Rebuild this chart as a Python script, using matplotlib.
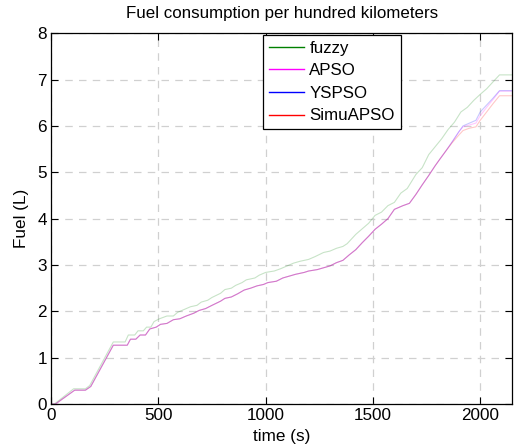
import numpy as np
import matplotlib
matplotlib.use('Agg')
import matplotlib.pyplot as plt
from matplotlib.lines import Line2D

plt.rcParams['font.family'] = ['Liberation Sans', 'DejaVu Sans']

# Fuel curves (time in s, fuel in L)
t_fuzzy = [0, 15, 105, 160, 180, 290, 345, 360, 390, 405, 430, 445, 465, 480, 505, 540, 570, 590, 620,
           650, 680, 700, 730, 750, 790, 810, 840, 860, 890, 910, 950, 970, 1000, 1040, 1070, 1100, 1130,
           1160, 1200, 1230, 1270, 1300, 1330, 1360, 1380, 1420, 1450, 1480, 1510, 1540, 1570, 1600, 1630,
           1660, 1700, 1730, 1760, 1790, 1820, 1850, 1880, 1910, 1940, 1970, 2000, 2030, 2060, 2090, 2150]
f_fuzzy = [0, 0, 0.33, 0.33, 0.40, 1.34, 1.34, 1.49, 1.49, 1.58, 1.58, 1.66, 1.66, 1.78, 1.84, 1.90, 1.90,
           1.98, 2.04, 2.10, 2.13, 2.20, 2.24, 2.30, 2.39, 2.47, 2.50, 2.56, 2.62, 2.68, 2.72, 2.78, 2.84,
           2.87, 2.92, 2.98, 3.04, 3.08, 3.12, 3.18, 3.27, 3.30, 3.36, 3.40, 3.46, 3.66, 3.78, 3.90, 4.07,
           4.14, 4.28, 4.35, 4.55, 4.65, 4.95, 5.10, 5.38, 5.55, 5.72, 5.92, 6.08, 6.30, 6.40, 6.55, 6.68,
           6.80, 6.95, 7.10, 7.10]

t_apso = [0, 20, 110, 160, 185, 290, 355, 370, 395, 415, 440, 460, 490, 510, 540, 570, 600, 630, 665,
          690, 720, 750, 790, 810, 840, 870, 900, 930, 960, 990, 1010, 1050, 1080, 1110, 1140, 1180, 1200,
          1240, 1270, 1300, 1330, 1360, 1390, 1420, 1450, 1480, 1510, 1540, 1570, 1600, 1640, 1670, 1700,
          1730, 1760, 1790, 1810, 1840, 1870, 1900, 1920, 1950, 1980, 2000, 2030, 2060, 2090, 2150]
f_apso = [0, 0, 0.30, 0.30, 0.38, 1.27, 1.27, 1.40, 1.40, 1.49, 1.49, 1.62, 1.66, 1.72, 1.74, 1.82, 1.84,
          1.90, 1.96, 2.02, 2.06, 2.13, 2.22, 2.28, 2.31, 2.38, 2.46, 2.50, 2.55, 2.58, 2.62, 2.65, 2.72,
          2.76, 2.80, 2.84, 2.87, 2.90, 2.94, 2.98, 3.05, 3.10, 3.22, 3.33, 3.48, 3.62, 3.77, 3.88, 4.00,
          4.20, 4.28, 4.33, 4.52, 4.73, 4.93, 5.14, 5.27, 5.46, 5.66, 5.87, 5.98, 6.02, 6.06, 6.22, 6.40,
          6.57, 6.75, 6.75]

t_yspso = t_apso
f_yspso = [0, 0, 0.30, 0.30, 0.38, 1.27, 1.27, 1.40, 1.40, 1.49, 1.49, 1.62, 1.66, 1.72, 1.74, 1.82, 1.84,
           1.90, 1.96, 2.02, 2.06, 2.13, 2.22, 2.28, 2.31, 2.38, 2.46, 2.50, 2.55, 2.58, 2.62, 2.65, 2.72,
           2.76, 2.80, 2.84, 2.87, 2.90, 2.94, 2.98, 3.05, 3.10, 3.22, 3.33, 3.48, 3.62, 3.77, 3.88, 4.00,
           4.20, 4.28, 4.33, 4.52, 4.73, 4.93, 5.14, 5.27, 5.46, 5.66, 5.87, 6.00, 6.06, 6.12, 6.30, 6.45,
           6.60, 6.76, 6.76]

t_simu = t_apso
f_simu = [0, 0, 0.30, 0.30, 0.38, 1.27, 1.27, 1.40, 1.40, 1.49, 1.49, 1.62, 1.66, 1.72, 1.74, 1.82, 1.84,
          1.90, 1.96, 2.02, 2.06, 2.13, 2.22, 2.28, 2.31, 2.38, 2.46, 2.50, 2.55, 2.58, 2.62, 2.65, 2.72,
          2.76, 2.80, 2.84, 2.87, 2.90, 2.94, 2.98, 3.05, 3.10, 3.22, 3.33, 3.48, 3.62, 3.77, 3.88, 4.00,
          4.20, 4.28, 4.33, 4.52, 4.73, 4.93, 5.14, 5.27, 5.46, 5.64, 5.80, 5.90, 5.95, 5.98, 6.12, 6.30,
          6.48, 6.65, 6.65]

series = [('fuzzy', t_fuzzy, f_fuzzy, '#008000'),
          ('APSO', t_apso, f_apso, '#ff00ff'),
          ('YSPSO', t_yspso, f_yspso, '#0000ff'),
          ('SimuAPSO', t_simu, f_simu, '#ff0000')]

fig = plt.figure(figsize=(5.16, 4.48), dpi=100)
ax = fig.add_axes([0.099, 0.098, 0.894, 0.828])

handles = []
for name, t, f, c in series:
    ax.plot(t, f, color=c, lw=0.8, alpha=0.22)
    handles.append(Line2D([], [], color=c, lw=1.0, label=name))

ax.set_xlim(0, 2150)
ax.set_ylim(0, 8)
ax.set_xticks([0, 500, 1000, 1500, 2000])
ax.set_yticks(range(0, 9))
ax.grid(True, color='#d0d0d0', linestyle=(0, (6, 5)), lw=0.9)
ax.tick_params(direction='in', top=True, right=True, labelsize=12.3, length=5, pad=3)
for s in ax.spines.values():
    s.set_linewidth(0.9)

ax.set_xlabel('time (s)', fontsize=12.3, labelpad=4)
ax.set_ylabel('Fuel (L)', fontsize=12.3, labelpad=6)
ax.set_title('Fuel consumption per hundred kilometers', fontsize=12.2, pad=11)

leg = ax.legend(handles=handles, loc='upper left', bbox_to_anchor=(0.459, 0.996),
                fontsize=12.2, frameon=True, fancybox=False, framealpha=1,
                edgecolor='black', handlelength=2.1, handletextpad=0.3,
                borderpad=0.35, labelspacing=0.45, borderaxespad=0)
leg.get_frame().set_linewidth(0.9)

fig.savefig('out.png', dpi=100)
